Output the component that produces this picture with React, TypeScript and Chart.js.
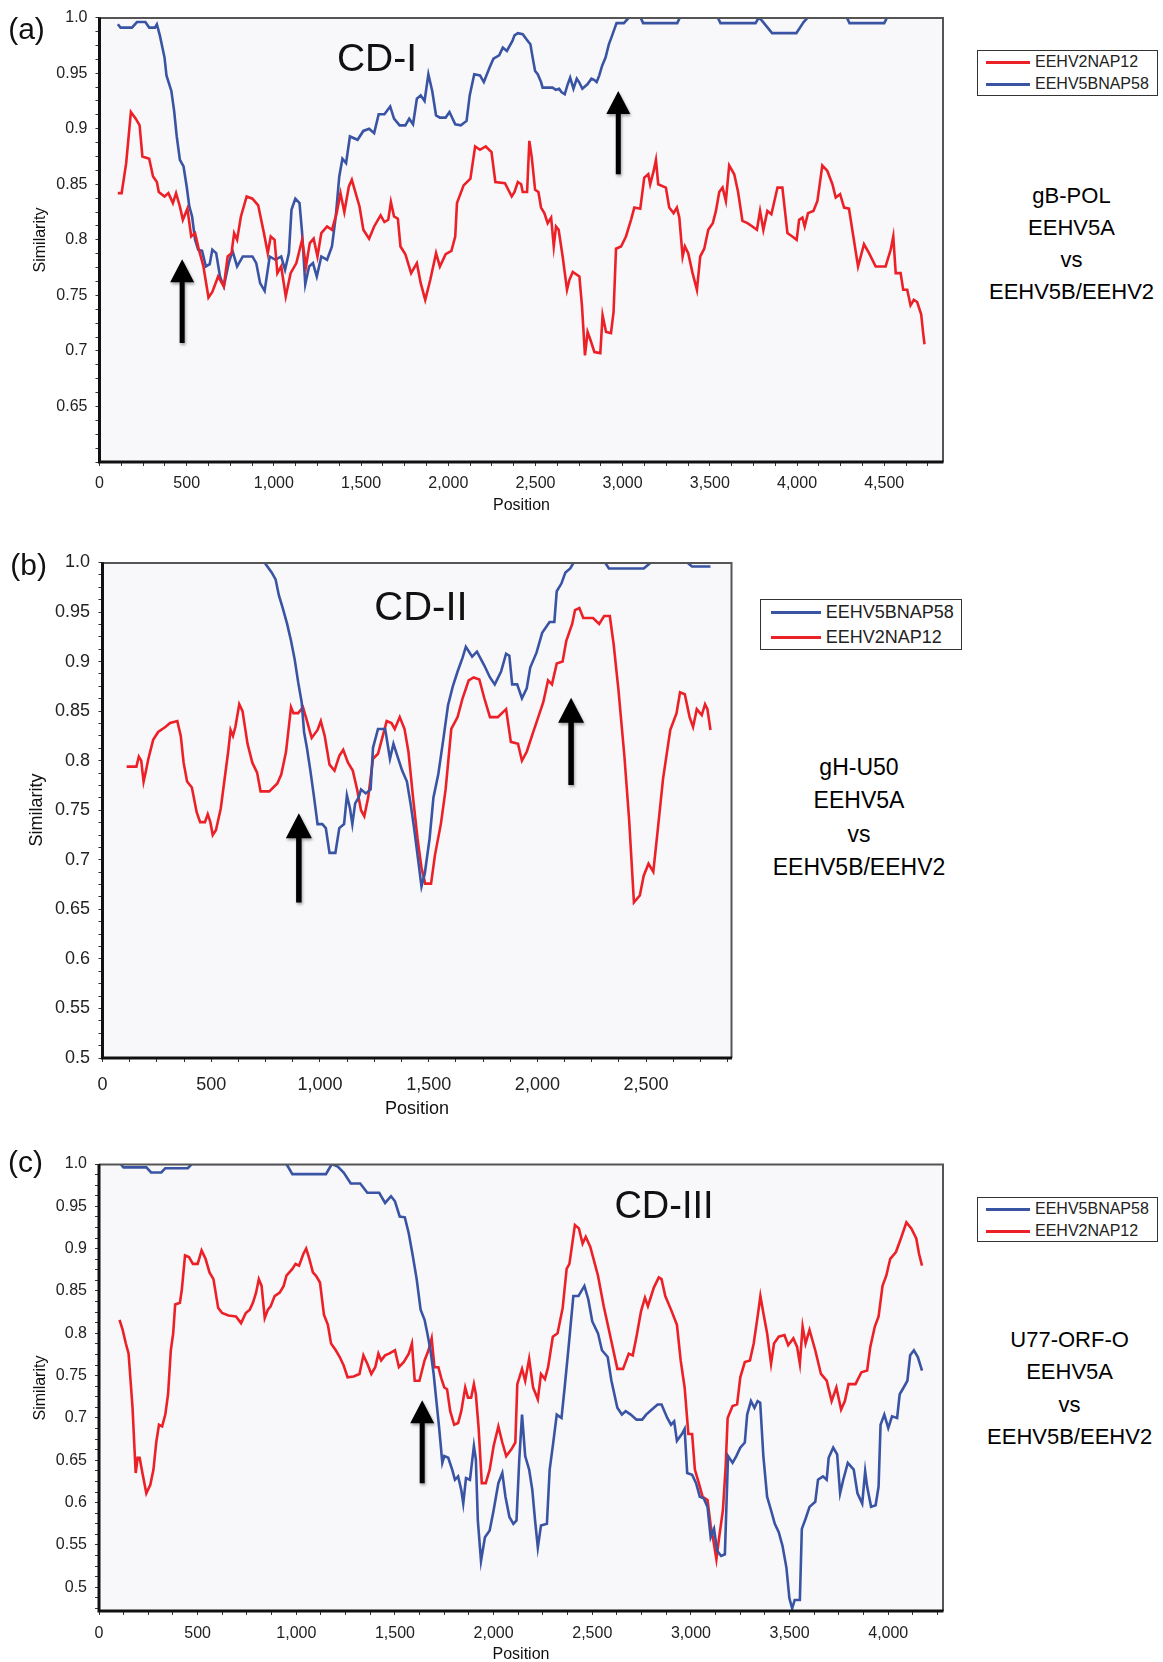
import React, { useEffect, useRef } from 'react';
import { Chart, registerables } from 'chart.js';

Chart.register(...registerables);

const FONT = '"Liberation Sans", Arial, Helvetica, sans-serif';
const RED = '#EC2128';
const BLUE = '#3A54A4';
const PLOT_BG = '#F8F7FA';

// ---------- Panel (a) gB-POL ----------
const aRedPos = [105,127,153,180,208,230,246,285,307,329,340,373,395,421,439,461,478,504,526,548,570,596,625,647,680,713,735,757,772,789,811,844,877,910,943,965,982,1004,1020,1042,1068,1096,1129,1162,1184,1206,1228,1250,1272,1305,1333,1360,1382,1404,1430,1447,1491,1513,1546,1575,1612,1634,1656,1671,1689,1711,1726,1754,1787,1820,1842,1868,1897,1930,1952,1985,2018,2040,2050,2088,2127,2154,2182,2215,2248,2270,2325,2364,
  2380,2399,2418,2427,2452,2465,2479,2498,2517,2532,2551,2570,2590,2605,2618,2633,2656,2681,2695,2714,2752,2767,2784,2799,2815,2838,2872,2885,2905,2933,2948,2962,2991,3019,3048,3067,3101,3124,3147,3158,3178,3191,3204,3248,3267,3292,3311,3325,3344,3357,3376,3401,3426,3445,3468,3491,3517,3535,3554,3573,3592,3611,3640,3662,3687,3716,3744,3770,3788,3807,3830,3853,3888,3916,3945,3973,3998,4012,4031,4044,4063,4094,4117,4145,4174,4203,4222,4247,4270,4298,4323,4350,4384,4413,4451,4508,4537,4552,4566,4594,4609,4632,4651,4670,4689,4712,4724,4731];
const aRedSim = [0.842,0.842,0.869,0.915,0.909,0.903,0.875,0.873,0.857,0.852,0.843,0.839,0.842,0.833,0.842,0.830,0.818,0.828,0.803,0.806,0.791,0.776,0.748,0.753,0.767,0.758,0.785,0.788,0.806,0.800,0.821,0.839,0.837,0.831,0.806,0.788,0.803,0.800,0.770,0.776,0.749,0.770,0.779,0.800,0.776,0.797,0.801,0.785,0.806,0.812,0.809,0.824,0.842,0.825,0.848,0.854,0.830,0.809,0.801,0.812,0.822,0.816,0.818,0.834,0.821,0.819,0.794,0.787,0.770,0.779,0.761,0.746,0.764,0.788,0.776,0.787,0.790,0.803,0.833,0.849,0.855,0.884,0.881,0.884,0.879,0.852,0.851,0.839,
  0.843,0.852,0.850,0.843,0.843,0.889,0.874,0.845,0.843,0.829,0.824,0.815,0.820,0.794,0.812,0.809,0.785,0.755,0.764,0.771,0.767,0.740,0.696,0.717,0.710,0.699,0.698,0.732,0.717,0.716,0.735,0.792,0.794,0.803,0.818,0.829,0.828,0.856,0.859,0.850,0.862,0.872,0.850,0.847,0.829,0.824,0.829,0.820,0.785,0.794,0.788,0.770,0.755,0.785,0.792,0.809,0.815,0.826,0.843,0.847,0.835,0.867,0.859,0.843,0.817,0.815,0.812,0.809,0.826,0.809,0.826,0.823,0.847,0.847,0.806,0.803,0.800,0.818,0.820,0.812,0.824,0.826,0.835,0.867,0.862,0.850,0.838,0.841,0.829,0.828,0.803,0.776,0.796,0.788,0.776,0.776,0.791,0.803,0.770,0.770,0.755,0.755,0.741,0.746,0.744,0.733,0.715,0.706];
const aBluePos = [105,121,186,215,263,285,318,329,346,373,384,412,428,443,461,482,500,515,531,548,566,588,610,632,647,669,691,713,741,763,789,822,877,899,921,947,976,1009,1042,1064,1086,1101,1123,1147,1162,1180,1202,1224,1246,1272,1305,1333,1355,1375,1393,1414,1436,1480,1513,1546,1575,1601,1634,1667,1689,1721,1754,1776,1798,1820,1842,1864,1886,1908,1930,1952,1985,2007,2040,2072,2105,2123,2149,2182,2204,2237,2259,2292,2313,2336,2368,
  2380,2399,2427,2456,2471,2484,2498,2513,2532,2541,2598,2617,2636,2649,2668,2683,2699,2718,2737,2750,2769,2798,2821,2836,2851,2866,2883,2902,2921,2940,2965,3007,3036,3103,3118,3313,3328,3546,3561,3762,3781,3800,3857,3996,4038,4061,4286,4301,4500,4516,4731];
const aBlueSim = [0.994,0.991,0.991,0.996,0.996,0.991,0.991,0.994,0.984,0.964,0.948,0.934,0.916,0.893,0.872,0.866,0.848,0.830,0.821,0.800,0.791,0.790,0.776,0.778,0.791,0.788,0.767,0.758,0.779,0.790,0.776,0.785,0.785,0.779,0.761,0.754,0.785,0.782,0.785,0.773,0.788,0.827,0.837,0.833,0.806,0.760,0.776,0.779,0.767,0.785,0.782,0.794,0.821,0.857,0.873,0.869,0.893,0.890,0.898,0.900,0.896,0.913,0.913,0.920,0.909,0.903,0.903,0.909,0.904,0.927,0.930,0.925,0.949,0.934,0.912,0.910,0.910,0.915,0.904,0.903,0.907,0.930,0.949,0.948,0.942,0.955,0.963,0.966,0.973,0.970,0.979,
  0.984,0.986,0.985,0.979,0.976,0.964,0.952,0.949,0.942,0.937,0.937,0.935,0.936,0.933,0.931,0.939,0.946,0.936,0.945,0.942,0.936,0.940,0.945,0.944,0.942,0.948,0.957,0.964,0.976,0.984,0.995,0.995,1.0,1.0,0.995,0.995,1.0,1.0,0.995,0.995,1.0,0.997,0.986,0.986,0.996,1.0,1.0,0.995,0.995,1.0,1.0];
const aArrows = [{ x: 474, tip: 0.7825, tail: 0.707 }, { x: 2975, tip: 0.934, tail: 0.859 }];
const aSideText = ['gB-POL', 'EEHV5A', 'vs', 'EEHV5B/EEHV2'];

// ---------- Panel (b) gH-U50 ----------
const bRedPos = [111,156,167,178,189,200,211,233,256,289,311,344,360,373,389,411,433,449,471,484,496,507,522,544,560,578,589,600,611,629,644,667,689,711,727,767,804,822,844,867,878,900,922,938,962,989,1004,1022,1044,1067,1089,1107,1129,1151,1171,1189,1204,1222,1244,1267,1289,1307,1329,1344,1367,1389,1407,1429,1449,1467,1484,1511,1529,1556,1578,1604,1633,1656,1684,1707,1733,1756,1782,1818,1856,1878,1911,1929,1951,1978,2004,2027,2049,2067,2089,2116,2133,2160,2173,2193,2211,2256,2284,2307,2333,2351,2373,2400,2422,2444,2471,2489,2511,2533,2551,2578,2611,2640,2656,2678,2700,2716,2733,2756,2771,2782,2796];
const bRedSim = [0.794,0.794,0.804,0.800,0.779,0.790,0.802,0.821,0.829,0.834,0.838,0.840,0.825,0.798,0.779,0.773,0.748,0.738,0.738,0.746,0.738,0.725,0.730,0.752,0.779,0.809,0.831,0.825,0.834,0.857,0.850,0.817,0.798,0.788,0.769,0.769,0.777,0.786,0.809,0.854,0.848,0.848,0.854,0.842,0.823,0.831,0.840,0.825,0.796,0.790,0.805,0.811,0.798,0.790,0.771,0.750,0.744,0.763,0.802,0.807,0.825,0.840,0.838,0.832,0.844,0.832,0.809,0.761,0.721,0.692,0.676,0.676,0.705,0.736,0.771,0.832,0.844,0.863,0.881,0.884,0.882,0.863,0.844,0.844,0.852,0.819,0.817,0.800,0.809,0.827,0.844,0.859,0.881,0.877,0.898,0.900,0.921,0.938,0.952,0.954,0.944,0.944,0.938,0.946,0.946,0.917,0.871,0.805,0.740,0.657,0.664,0.684,0.696,0.688,0.725,0.782,0.831,0.848,0.869,0.867,0.844,0.834,0.852,0.846,0.857,0.852,0.831];
const bBluePos = [111,745,778,796,811,829,849,867,884,900,916,927,940,956,973,989,1011,1027,1044,1071,1089,1111,1124,1138,1149,1162,1178,1189,1211,1233,1244,1267,1300,1322,1338,1360,1378,1400,1418,1433,1451,1467,1482,1504,1522,1544,1567,1589,1611,1633,1656,1671,1700,1722,1756,1782,1804,1833,1856,1871,1884,1907,1929,1951,1967,1996,2022,2056,2078,2089,2111,2129,2151,2167,2311,2329,2489,2522,2689,2711,2796];
const bBlueSim = [1.0,1.0,0.990,0.983,0.967,0.954,0.938,0.921,0.902,0.879,0.859,0.829,0.813,0.790,0.763,0.736,0.736,0.732,0.707,0.707,0.732,0.736,0.765,0.752,0.736,0.757,0.763,0.771,0.767,0.771,0.813,0.832,0.832,0.802,0.817,0.802,0.790,0.779,0.755,0.732,0.701,0.673,0.686,0.721,0.763,0.786,0.821,0.856,0.875,0.890,0.904,0.915,0.905,0.910,0.896,0.884,0.877,0.890,0.908,0.906,0.877,0.877,0.863,0.873,0.894,0.909,0.929,0.940,0.940,0.971,0.979,0.990,0.994,1.0,1.0,0.994,0.994,1.0,1.0,0.996,0.996];
const bArrows = [{ x: 903, tip: 0.747, tail: 0.657 }, { x: 2155, tip: 0.8636, tail: 0.7755 }];
const bSideText = ['gH-U50', 'EEHV5A', 'vs', 'EEHV5B/EEHV2'];

// ---------- Panel (c) U77-ORF-O ----------
const cRedPos = [104,120,136,150,160,170,180,186,196,206,220,240,260,276,290,304,320,336,350,364,376,386,410,420,436,456,476,500,520,540,560,580,604,624,656,694,720,744,764,780,796,810,824,840,856,870,890,916,936,950,980,996,1014,1036,1050,1066,1084,1100,1120,1140,1160,1176,1200,1220,1240,1260,1290,1320,1340,1360,1380,1400,1416,1430,1450,1470,1500,1520,1544,1570,1586,1600,1624,1650,1670,1686,1700,1720,1736,1750,1764,1780,1800,1820,1836,1856,1870,1886,1900,1910,1924,1940,1960,1980,2000,2024,2044,2064,2090,2110,2120,2144,2160,2180,2200,2224,2240,2260,2276,2300,2324,2350,2370,2384,
  2412,2432,2451,2467,2490,2529,2558,2588,2627,2656,2685,2705,2724,2747,2767,2782,2812,2837,2851,2870,2899,2929,2948,2968,2987,3006,3020,3040,3059,3084,3100,3114,3129,3143,3162,3176,3186,3211,3234,3250,3273,3299,3318,3338,3352,3367,3386,3406,3421,3445,3474,3493,3519,3538,3552,3566,3581,3601,3630,3659,3688,3713,3737,3761,3780,3799,3834,3864,3893,3909,3932,3951,3971,3990,4010,4039,4064,4092,4117,4142,4156,4171];
const cRedSim = [0.816,0.804,0.788,0.776,0.744,0.712,0.663,0.635,0.653,0.653,0.635,0.611,0.621,0.639,0.671,0.692,0.690,0.704,0.728,0.780,0.800,0.834,0.836,0.852,0.892,0.890,0.882,0.882,0.898,0.888,0.872,0.864,0.830,0.824,0.821,0.820,0.812,0.824,0.828,0.836,0.848,0.864,0.856,0.818,0.828,0.832,0.844,0.848,0.856,0.868,0.876,0.882,0.880,0.894,0.900,0.888,0.872,0.868,0.860,0.822,0.810,0.788,0.780,0.772,0.762,0.748,0.749,0.752,0.774,0.764,0.752,0.760,0.776,0.768,0.774,0.776,0.780,0.760,0.766,0.776,0.788,0.744,0.744,0.768,0.780,0.794,0.760,0.760,0.746,0.736,0.734,0.708,0.692,0.694,0.708,0.736,0.724,0.724,0.740,0.728,0.688,0.623,0.623,0.639,0.667,0.690,0.671,0.655,0.663,0.671,0.740,0.758,0.744,0.770,0.736,0.722,0.752,0.746,0.760,0.796,0.800,0.830,0.876,0.882,
  0.928,0.924,0.906,0.914,0.902,0.868,0.832,0.800,0.758,0.758,0.776,0.774,0.796,0.826,0.842,0.832,0.854,0.866,0.864,0.844,0.828,0.810,0.768,0.736,0.681,0.681,0.639,0.623,0.607,0.603,0.573,0.555,0.533,0.559,0.591,0.643,0.700,0.714,0.716,0.748,0.766,0.768,0.788,0.820,0.844,0.824,0.800,0.764,0.788,0.796,0.798,0.786,0.794,0.784,0.764,0.808,0.788,0.804,0.780,0.752,0.744,0.720,0.736,0.710,0.720,0.740,0.740,0.754,0.756,0.784,0.808,0.820,0.856,0.868,0.888,0.896,0.912,0.931,0.924,0.912,0.894,0.880];
const cBluePos = [110,124,240,264,316,336,450,470,950,980,1150,1180,1210,1240,1276,1324,1360,1420,1450,1480,1500,1524,1550,1570,1590,1610,1630,1650,1664,1680,1696,1710,1724,1740,1750,1770,1790,1804,1820,1836,1846,1860,1880,1900,1910,1920,1936,1956,1980,2000,2024,2044,2060,2080,2100,2116,2130,2144,2160,2180,2196,2210,2224,2240,2270,2284,2300,2320,2344,2360,2380,2404,2430,2460,2480,2500,
  2529,2549,2578,2597,2627,2650,2669,2695,2724,2753,2773,2802,2831,2851,2880,2899,2915,2929,2954,2968,2981,3006,3026,3045,3065,3084,3100,3117,3133,3153,3172,3188,3211,3230,3250,3273,3285,3304,3322,3338,3351,3367,3386,3406,3425,3445,3464,3484,3499,3513,3526,3552,3562,3581,3601,3630,3644,3669,3688,3698,3721,3741,3756,3772,3795,3825,3844,3868,3883,3893,3913,3936,3951,3961,3980,4000,4019,4045,4058,4078,4097,4111,4130,4150,4171];
const cBlueSim = [1.0,0.996,0.996,0.990,0.990,0.995,0.995,1.0,1.0,0.988,0.988,1.0,0.997,0.990,0.977,0.977,0.966,0.966,0.954,0.962,0.956,0.938,0.937,0.918,0.892,0.864,0.828,0.816,0.800,0.780,0.752,0.720,0.688,0.647,0.655,0.653,0.639,0.627,0.631,0.615,0.599,0.629,0.627,0.667,0.651,0.579,0.531,0.559,0.567,0.591,0.623,0.635,0.607,0.583,0.575,0.579,0.651,0.704,0.655,0.639,0.615,0.579,0.547,0.573,0.575,0.639,0.667,0.704,0.700,0.736,0.784,0.844,0.844,0.856,0.840,0.814,
  0.800,0.780,0.772,0.744,0.712,0.704,0.708,0.704,0.698,0.698,0.704,0.710,0.716,0.716,0.700,0.692,0.696,0.673,0.681,0.687,0.635,0.633,0.623,0.607,0.605,0.595,0.559,0.569,0.543,0.537,0.539,0.655,0.647,0.655,0.665,0.671,0.704,0.720,0.712,0.720,0.718,0.655,0.607,0.591,0.575,0.565,0.549,0.523,0.487,0.475,0.485,0.485,0.569,0.581,0.595,0.601,0.627,0.631,0.627,0.653,0.665,0.657,0.611,0.627,0.647,0.639,0.611,0.599,0.637,0.619,0.595,0.597,0.619,0.692,0.704,0.688,0.702,0.700,0.728,0.736,0.744,0.774,0.780,0.772,0.756];
const cArrows = [{ x: 1638, tip: 0.721, tail: 0.623 }];
const cSideText = ['U77-ORF-O', 'EEHV5A', 'vs', 'EEHV5B/EEHV2'];

const RED_LABEL = 'EEHV2NAP12';
const BLUE_LABEL = 'EEHV5BNAP58';
const X_TICK_STEP = 125;
const X_LABEL_STEP = 500;
const Y_TICK_STEP = 0.0125;

type Series = { label: string; color: string; pos: number[]; sim: number[] };
type Arrow = { x: number; tip: number; tail: number };
type Spec = {
  box: { x: number; y: number; w: number; h: number };
  yAxisW: number; xAxisH: number; padTop: number; padRight: number;
  xMax: number; yMin: number; hideMinLabel: boolean;
  tickSize: number; xPad: number; yPad: number;
  series: Series[]; arrows: Arrow[]; headW: number; headH: number; shaft: number;
};

function yLabel(v: number, min: number, hideMin: boolean) {
  const k = v * 20;
  if (Math.abs(k - Math.round(k)) > 1e-6) return '';
  if (hideMin && Math.abs(v - min) < 1e-6) return '';
  if (Math.abs(v - 1) < 1e-9) return '1.0';
  return String(Math.round(v * 100) / 100);
}

function decorPlugin(spec: Spec) {
  return {
    id: 'panelDecor',
    beforeDraw(chart: any) {
      const { ctx, chartArea: a } = chart;
      ctx.save();
      ctx.fillStyle = PLOT_BG;
      ctx.fillRect(a.left, a.top, a.right - a.left, a.bottom - a.top);
      ctx.restore();
    },
    afterDatasetsDraw(chart: any) {
      const { ctx, chartArea: a, scales } = chart;
      ctx.save();
      ctx.strokeStyle = '#555';
      ctx.lineWidth = 2;
      ctx.beginPath();
      ctx.moveTo(a.left, a.top + 0.5);
      ctx.lineTo(a.right - 0.5, a.top + 0.5);
      ctx.lineTo(a.right - 0.5, a.bottom);
      ctx.stroke();
      ctx.strokeStyle = '#111';
      ctx.lineWidth = 3;
      ctx.beginPath();
      ctx.moveTo(a.left, a.top);
      ctx.lineTo(a.left, a.bottom);
      ctx.lineTo(a.right, a.bottom);
      ctx.stroke();
      for (const ar of spec.arrows) {
        const x = scales.x.getPixelForValue(ar.x);
        const yTip = scales.y.getPixelForValue(ar.tip);
        const yTail = scales.y.getPixelForValue(ar.tail);
        const hw = spec.headW / 2, hh = spec.headH, s = spec.shaft / 2;
        ctx.shadowColor = 'rgba(0,0,0,0.35)';
        ctx.shadowBlur = 3;
        ctx.shadowOffsetX = 1;
        ctx.shadowOffsetY = 2;
        ctx.fillStyle = '#000';
        ctx.beginPath();
        ctx.moveTo(x, yTip);
        ctx.lineTo(x + hw, yTip + hh);
        ctx.lineTo(x + s, yTip + hh);
        ctx.lineTo(x + s, yTail);
        ctx.lineTo(x - s, yTail);
        ctx.lineTo(x - s, yTip + hh);
        ctx.lineTo(x - hw, yTip + hh);
        ctx.closePath();
        ctx.fill();
      }
      ctx.restore();
    },
  };
}

function buildConfig(spec: Spec): any {
  const gridOpts = {
    display: true, drawOnChartArea: false, drawTicks: true, tickLength: 4,
    color: '#333', tickColor: '#333', lineWidth: 1,
  };
  return {
    type: 'line',
    data: {
      datasets: spec.series.map((s) => ({
        label: s.label,
        data: s.pos.map((x, i) => ({ x, y: s.sim[i] })),
        borderColor: s.color,
        backgroundColor: s.color,
        borderWidth: 2.6,
        pointRadius: 0,
        tension: 0,
        fill: false,
        clip: 0,
        borderJoinStyle: 'miter',
      })),
    },
    options: {
      animation: false,
      responsive: false,
      maintainAspectRatio: false,
      devicePixelRatio: 1,
      events: [],
      layout: { padding: { left: 0, top: spec.padTop, right: spec.padRight, bottom: 0 } },
      plugins: { legend: { display: false }, tooltip: { enabled: false }, title: { display: false } },
      scales: {
        x: {
          type: 'linear', min: 0, max: spec.xMax,
          afterFit: (sc: any) => { sc.height = spec.xAxisH; },
          grid: gridOpts,
          border: { display: false },
          ticks: {
            stepSize: X_TICK_STEP, autoSkip: false, maxTicksLimit: 1000, includeBounds: false,
            maxRotation: 0, minRotation: 0, padding: spec.xPad, color: '#222',
            font: { family: FONT, size: spec.tickSize },
            callback: (v: any) => {
              const n = Number(v);
              return Math.abs(n % X_LABEL_STEP) < 1e-6 ? n.toLocaleString('en-US') : '';
            },
          },
        },
        y: {
          type: 'linear', min: spec.yMin, max: 1,
          afterFit: (sc: any) => { sc.width = spec.yAxisW; },
          grid: gridOpts,
          border: { display: false },
          ticks: {
            stepSize: Y_TICK_STEP, autoSkip: false, maxTicksLimit: 1000, includeBounds: false,
            padding: spec.yPad, color: '#222',
            font: { family: FONT, size: spec.tickSize },
            callback: (v: any) => yLabel(Number(v), spec.yMin, spec.hideMinLabel),
          },
        },
      },
    },
    plugins: [decorPlugin(spec)],
  };
}

const redA: Series = { label: RED_LABEL, color: RED, pos: aRedPos, sim: aRedSim };
const blueA: Series = { label: BLUE_LABEL, color: BLUE, pos: aBluePos, sim: aBlueSim };
const redB: Series = { label: RED_LABEL, color: RED, pos: bRedPos, sim: bRedSim };
const blueB: Series = { label: BLUE_LABEL, color: BLUE, pos: bBluePos, sim: bBlueSim };
const redC: Series = { label: RED_LABEL, color: RED, pos: cRedPos, sim: cRedSim };
const blueC: Series = { label: BLUE_LABEL, color: BLUE, pos: cBluePos, sim: cBlueSim };

const specA: Spec = {
  box: { x: 0, y: 0, w: 960, h: 520 }, yAxisW: 99.5, xAxisH: 58, padTop: 17, padRight: 16.5,
  xMax: 4840, yMin: 0.6, hideMinLabel: true, tickSize: 16, xPad: 8, yPad: 8,
  series: [redA, blueA], arrows: aArrows, headW: 24, headH: 23, shaft: 5,
};
const specB: Spec = {
  box: { x: 0, y: 530, w: 760, h: 600 }, yAxisW: 102.5, xAxisH: 72, padTop: 32.5, padRight: 28,
  xMax: 2895, yMin: 0.5, hideMinLabel: false, tickSize: 18, xPad: 12, yPad: 8.5,
  series: [blueB, redB], arrows: bArrows, headW: 26, headH: 25, shaft: 5.5,
};
const specC: Spec = {
  box: { x: 0, y: 1130, w: 960, h: 532 }, yAxisW: 99, xAxisH: 51, padTop: 34, padRight: 16.5,
  xMax: 4280, yMin: 0.472, hideMinLabel: false, tickSize: 16, xPad: 9, yPad: 8,
  series: [blueC, redC], arrows: cArrows, headW: 24, headH: 23, shaft: 5,
};

function PanelChart({ spec }: { spec: Spec }) {
  const ref = useRef<HTMLCanvasElement | null>(null);
  useEffect(() => {
    const canvas = ref.current;
    if (!canvas) return;
    const chart = new Chart(canvas, buildConfig(spec));
    return () => chart.destroy();
  }, [spec]);
  const { x, y, w, h } = spec.box;
  return (
    <canvas ref={ref} width={w} height={h}
      style={{ position: 'absolute', left: x, top: y, width: w, height: h, display: 'block' }} />
  );
}

function Txt({ x, y, size, children, rotate }: { x: number; y: number; size: number; children: React.ReactNode; rotate?: boolean }) {
  return (
    <div style={{
      position: 'absolute', left: x, top: y, fontSize: size, lineHeight: 1, whiteSpace: 'nowrap',
      transform: `translate(-50%, -50%)${rotate ? ' rotate(-90deg)' : ''}`, color: '#111',
    }}>{children}</div>
  );
}

function SideText({ cx, cy0, lh, size, lines }: { cx: number; cy0: number; lh: number; size: number; lines: string[] }) {
  return (
    <>
      {lines.map((t, i) => (
        <div key={i} style={{
          position: 'absolute', left: cx, top: cy0 + i * lh, fontSize: size, lineHeight: 1,
          whiteSpace: 'nowrap', transform: 'translate(-50%, -50%)', color: '#000',
        }}>{t}</div>
      ))}
    </>
  );
}

function Legend({ box, rows, sx0, sx1, tx, size }: {
  box: { x: number; y: number; w: number; h: number };
  rows: { label: string; color: string; cy: number }[];
  sx0: number; sx1: number; tx: number; size: number;
}) {
  return (
    <>
      <div style={{
        position: 'absolute', left: box.x, top: box.y, width: box.w, height: box.h,
        border: '1.5px solid #333', boxSizing: 'border-box', background: '#fff',
      }} />
      {rows.map((r, i) => (
        <React.Fragment key={i}>
          <div style={{ position: 'absolute', left: sx0, top: r.cy - 1.5, width: sx1 - sx0, height: 3, background: r.color }} />
          <div style={{
            position: 'absolute', left: tx, top: r.cy, fontSize: size, lineHeight: 1,
            transform: 'translateY(-50%)', whiteSpace: 'nowrap', color: '#222',
          }}>{r.label}</div>
        </React.Fragment>
      ))}
    </>
  );
}

export default function App() {
  return (
    <div style={{
      position: 'absolute', left: 0, top: 0, width: 1163, height: 1662, overflow: 'hidden',
      background: '#fff', fontFamily: FONT,
    }}>
      <PanelChart spec={specA} />
      <PanelChart spec={specB} />
      <PanelChart spec={specC} />

      {/* Panel (a) */}
      <Txt x={26.5} y={29} size={30}>(a)</Txt>
      <Txt x={377} y={57} size={39}>CD-I</Txt>
      <Txt x={40} y={239.5} size={16} rotate>Similarity</Txt>
      <Txt x={521.5} y={505} size={16}>Position</Txt>
      <Legend box={{ x: 976.5, y: 50, w: 181.5, h: 45.5 }}
        rows={[{ label: RED_LABEL, color: RED, cy: 62 }, { label: BLUE_LABEL, color: BLUE, cy: 84 }]}
        sx0={986} sx1={1030} tx={1035} size={16} />
      <SideText cx={1071.5} cy0={196} lh={32} size={22} lines={aSideText} />

      {/* Panel (b) */}
      <Txt x={28.6} y={564.5} size={30}>(b)</Txt>
      <Txt x={421} y={606} size={40}>CD-II</Txt>
      <Txt x={36} y={810} size={18} rotate>Similarity</Txt>
      <Txt x={417} y={1108} size={18}>Position</Txt>
      <Legend box={{ x: 760, y: 599, w: 202, h: 51 }}
        rows={[{ label: BLUE_LABEL, color: BLUE, cy: 612 }, { label: RED_LABEL, color: RED, cy: 637 }]}
        sx0={771} sx1={821} tx={825.7} size={18} />
      <SideText cx={859} cy0={767} lh={33.3} size={23} lines={bSideText} />

      {/* Panel (c) */}
      <Txt x={25.5} y={1162} size={30}>(c)</Txt>
      <Txt x={664} y={1205} size={38}>CD-III</Txt>
      <Txt x={40} y={1387.5} size={16} rotate>Similarity</Txt>
      <Txt x={521} y={1654} size={16}>Position</Txt>
      <Legend box={{ x: 976.5, y: 1197, w: 181.5, h: 45 }}
        rows={[{ label: BLUE_LABEL, color: BLUE, cy: 1209 }, { label: RED_LABEL, color: RED, cy: 1231 }]}
        sx0={986} sx1={1030} tx={1035} size={16} />
      <SideText cx={1069.6} cy0={1340} lh={32.3} size={22} lines={cSideText} />
    </div>
  );
}
